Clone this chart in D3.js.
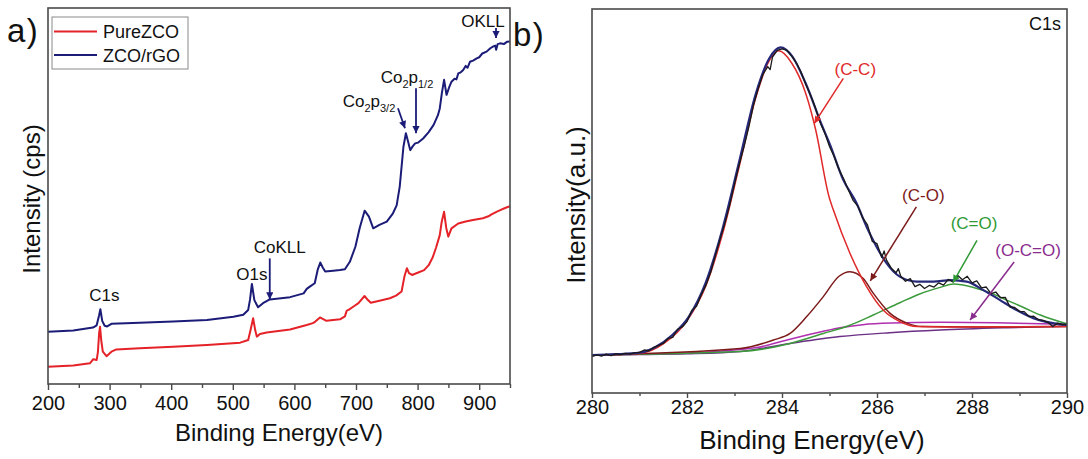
<!DOCTYPE html>
<html>
<head>
<meta charset="utf-8">
<script src="https://cdn.jsdelivr.net/npm/d3@7/dist/d3.min.js"></script>
<style>
    body { margin: 0; background: #fff; }
    svg { font-family: "Liberation Sans", Arial, sans-serif; }
</style>
</head>
<body>
<div id="chartContainer"></div>
<script>

// ---- survey spectra, [binding energy (eV), intensity (arb.)] ----
const pureZCO = [
    [200, 4.6], [241, 4.9], [268, 5.5], [273.5, 6.6], [279, 6.4], [281, 8.5], [283, 13.5], [284.5, 15.2],
    [286.5, 11.5], [289, 8.6], [295, 7.4], [303, 8.6], [311, 9.2], [349, 9.5], [403, 9.9], [458, 10.4],
    [512, 11.0], [525, 11.7], [529, 14.5], [533, 17.5], [536.5, 14.2], [539, 12.6], [544, 13.3], [555, 13.7],
    [593, 14.5], [620, 15.7], [630, 16.2], [634, 16.6], [641.5, 17.7], [652, 16.8], [674, 17.2], [682, 18.0],
    [685, 19.5], [688, 19.7], [696, 20.6], [704, 21.5], [713.8, 23.4], [719, 22.4], [724, 21.6], [740, 22.2],
    [755, 22.8], [765, 23.5], [774, 24.6], [778.5, 28.5], [782.6, 30.8], [786, 29.5], [791, 29.0], [800, 29.6],
    [810.6, 30.3], [818, 31.6], [824.6, 33.7], [830, 36.3], [836, 39.6], [839, 43.0], [843, 45.8], [846.5, 41.5],
    [849.8, 39.2], [855, 41.4], [866, 42.7], [878, 43.2], [890, 43.6], [906, 44.1], [915, 44.6], [920, 45.1],
    [928, 45.8], [935, 46.3], [942, 46.8], [950, 47.3]
];

const zcoRGO = [
    [200, 13.9], [241, 14.2], [273, 15.0], [279, 15.6], [283, 18.3], [285, 19.9], [288, 16.8], [292, 15.5],
    [296, 15.3], [303, 16.0], [349, 16.3], [403, 16.6], [458, 17.0], [501, 17.9], [517, 18.4], [525, 19.7],
    [528, 22.5], [531, 26.6], [535, 22.3], [541, 20.4], [549, 21.5], [560, 22.5], [593, 23.1], [615, 24.1],
    [620, 25.3], [625, 25.9], [633, 26.8], [638, 30.5], [642, 32.3], [646, 31.0], [650, 29.9], [663, 30.1],
    [674, 30.3], [682, 30.5], [690, 32.5], [699, 36.5], [706, 41.5], [714, 46.1], [721, 44.5], [728, 41.4],
    [738, 42.3], [750, 43.2], [760, 45.4], [766, 47.5], [771, 52.5], [777, 63.1], [781, 66.7], [784.5, 64.5],
    [788, 62.2], [792, 63.2], [796, 64.0], [801, 64.2], [809, 65.3], [818, 67.0], [826, 68.9], [833, 71.5],
    [836, 73.3], [839.5, 77.5], [843, 80.9], [847, 76.9], [851, 78.8], [855, 80.4], [860, 81.2], [863, 81.0],
    [866, 82.6], [870, 82.9], [874, 83.5], [878, 84.6], [881, 84.1], [885, 85.7], [890, 86.0], [896, 86.6],
    [900, 86.9], [905, 87.9], [912, 88.4], [918, 89.3], [923, 89.8], [926, 90.0], [927.5, 88.9], [930, 90.4],
    [934, 90.6], [940, 90.4], [945, 91.0], [950, 91.1]
];

const surveyNames = ['PureZCO', 'ZCO/rGO'];
const surveyTicks = [200, 300, 400, 500, 600, 700, 800, 900];
const surveyMinorTicks = [250, 350, 450, 550, 650, 750, 850, 950];

// ---- C1s high resolution, [binding energy (eV), intensity (a.u.)] ----
const c1sRaw = [
    [280.0, 9.5], [280.1, 9.9], [280.2, 9.6], [280.3, 10.1], [280.4, 9.7], [280.5, 10.2], [280.6, 10.0],
    [280.7, 10.3], [280.8, 10.1], [280.9, 10.5], [281.0, 10.6], [281.1, 11.2], [281.2, 11.0], [281.3, 11.9],
    [281.4, 12.4], [281.5, 12.9], [281.6, 14.2], [281.7, 14.5], [281.8, 16.6], [281.9, 17.2], [282.0, 18.6],
    [282.1, 21.5], [282.2, 22.6], [282.3, 25.6], [282.4, 28.1], [282.5, 31.5], [282.6, 35.9], [282.7, 40.2],
    [282.8, 44.3], [282.9, 49.0], [283.0, 54.4], [283.1, 59.5], [283.2, 64.1], [283.3, 69.2], [283.4, 75.0],
    [283.5, 79.3], [283.6, 83.0], [283.7, 85.0], [283.75, 84.2], [283.8, 87.5], [283.9, 89.2], [284.0, 89.6],
    [284.1, 89.3], [284.2, 87.8], [284.3, 86.0], [284.4, 83.6], [284.5, 80.4], [284.6, 77.6], [284.7, 74.4],
    [284.8, 70.5], [284.9, 67.7], [285.0, 64.2], [285.1, 61.5], [285.2, 58.2], [285.3, 55.7], [285.4, 52.8],
    [285.5, 50.1], [285.6, 48.6], [285.7, 45.6], [285.8, 43.8], [285.9, 39.5], [286.0, 38.9], [286.1, 35.3],
    [286.15, 37.0], [286.2, 34.6], [286.3, 32.5], [286.4, 31.3], [286.45, 32.4], [286.5, 30.4], [286.6, 29.1],
    [286.7, 29.8], [286.8, 27.7], [286.9, 28.3], [287.0, 27.2], [287.1, 28.0], [287.2, 27.6], [287.3, 28.7],
    [287.4, 28.1], [287.5, 29.6], [287.6, 28.9], [287.7, 30.6], [287.8, 29.5], [287.9, 30.4], [288.0, 28.7],
    [288.1, 29.2], [288.2, 27.4], [288.3, 27.6], [288.4, 25.9], [288.5, 26.3], [288.6, 24.8], [288.7, 24.9],
    [288.8, 22.4], [288.9, 22.3], [289.0, 21.2], [289.1, 21.2], [289.2, 19.9], [289.3, 20.0], [289.4, 19.1],
    [289.5, 18.9], [289.6, 18.4], [289.7, 17.3], [289.8, 18.2], [289.9, 17.8], [290.0, 17.9]
];

const c1sEnvelope = [
    [280.0, 9.9], [280.5, 10.1], [281.0, 10.5], [281.34, 12.0], [281.69, 15.1], [282.04, 19.9], [282.39, 28.6],
    [282.74, 42.4], [283.09, 59.8], [283.45, 78.0], [283.73, 87.1], [283.97, 90.0], [284.22, 87.6], [284.5, 80.6],
    [284.85, 69.4], [285.0, 65.0], [285.29, 55.5], [285.57, 49.4], [285.78, 43.3], [285.99, 38.1], [286.2, 33.8],
    [286.48, 30.3], [286.84, 29.0], [287.19, 29.0], [287.54, 29.4], [287.89, 29.0], [288.24, 26.8], [288.59, 24.2],
    [288.94, 21.6], [289.29, 19.5], [289.54, 18.6], [290.0, 17.7]
];

const c1sCC = [
    [280.0, 9.9], [281.0, 10.3], [281.5, 12.8], [282.0, 18.8], [282.4, 28.0], [282.75, 41.5], [283.1, 59.0],
    [283.45, 77.0], [283.73, 86.5], [283.93, 89.1], [284.2, 86.0], [284.5, 78.0], [284.71, 68.5], [284.99, 51.1],
    [285.08, 47.7], [285.43, 36.4], [285.78, 27.7], [286.13, 21.6], [286.48, 18.6], [286.84, 17.3], [287.5, 17.2],
    [290.0, 17.3]
];

const c1sCO = [
    [280.0, 9.9], [283.12, 11.6], [283.82, 13.8], [284.17, 15.5], [284.52, 19.9], [284.87, 25.1], [285.2, 30.4],
    [285.43, 31.6], [285.71, 29.8], [285.92, 26.0], [286.27, 20.8], [286.63, 18.2], [286.95, 17.3], [288.0, 17.2],
    [290.0, 17.3]
];

const c1sCdO = [
    [280.0, 9.9], [283.12, 10.8], [284.17, 12.9], [284.87, 15.5], [285.4, 17.5], [285.92, 20.3], [286.48, 23.5],
    [286.9, 25.8], [287.33, 27.5], [287.61, 28.4], [288.03, 27.5], [288.4, 26.0], [288.73, 24.2], [289.1, 22.2],
    [289.44, 20.3], [290.0, 18.0]
];

const c1sOCdO = [
    [280.0, 9.9], [281.0, 10.1], [282.0, 10.4], [283.0, 11.2], [283.5, 11.9], [284.17, 14.0], [284.85, 16.0],
    [285.22, 17.0], [285.7, 17.8], [286.3, 18.2], [287.33, 18.4], [288.5, 18.3], [290.0, 17.9]
];

const c1sBackground = [
    [280.0, 9.9], [281.0, 10.0], [282.0, 10.2], [283.12, 10.8], [284.17, 12.9], [285.22, 14.7], [286.27, 15.7],
    [287.33, 16.4], [288.73, 17.0], [290.0, 17.4]
];

const c1sTicks = [280, 282, 284, 286, 288, 290];
const c1sMinorTicks = [281, 283, 285, 287, 289];

const width = 1088;
const height = 459;

const navy = '#1b1b78';
const red = '#e42228';

const svg = d3.select('#chartContainer')
    .append('svg')
    .attr('width', width)
    .attr('height', height)
    .attr('viewBox', `0 0 ${width} ${height}`);

const defs = svg.append('defs');

function makeArrow(id, color, size) {
    defs.append('marker')
        .attr('id', id)
        .attr('viewBox', '0 0 10 10')
        .attr('refX', 10)
        .attr('refY', 5)
        .attr('markerUnits', 'userSpaceOnUse')
        .attr('markerWidth', size)
        .attr('markerHeight', size * 0.8)
        .attr('orient', 'auto')
        .append('path')
        .attr('d', 'M0,0 L10,5 L0,10 z')
        .attr('fill', color);
}

makeArrow('arrNavy', navy, 9);
makeArrow('arrCC', '#e02a2a', 9);
makeArrow('arrCO', '#7c1a1a', 9);
makeArrow('arrCdO', '#2f9a35', 9);
makeArrow('arrOCdO', '#8a2c8e', 9);

function drawFrame(g, x0, x1, y0, y1) {
    g.append('rect')
        .attr('x', x0).attr('y', y1)
        .attr('width', x1 - x0).attr('height', y0 - y1)
        .attr('fill', 'none')
        .attr('stroke', '#4a4a4a')
        .attr('stroke-width', 1.6);
}

function drawXAxis(g, scale, yPos, ticks, minor, opts) {
    const major = d3.axisBottom(scale)
        .tickValues(ticks)
        .tickSize(opts.tick)
        .tickPadding(opts.pad)
        .tickFormat(d3.format('d'));
    const ax = g.append('g')
        .attr('transform', `translate(0, ${yPos})`)
        .call(major);
    ax.select('.domain').remove();
    ax.selectAll('line').attr('stroke', '#4a4a4a').attr('stroke-width', 1.4);
    ax.selectAll('text')
        .attr('fill', '#111')
        .style('font-size', opts.font + 'px')
        .style('font-family', '"Liberation Sans", Arial, sans-serif');

    const mn = d3.axisBottom(scale)
        .tickValues(minor)
        .tickSize(opts.minorTick)
        .tickFormat('');
    const mx = g.append('g')
        .attr('transform', `translate(0, ${yPos})`)
        .call(mn);
    mx.select('.domain').remove();
    mx.selectAll('line').attr('stroke', '#4a4a4a').attr('stroke-width', 1.4);
}

// ================= panel a) survey =================
const a = { left: 48, right: 510, top: 8, bottom: 384 };

const xA = d3.scaleLinear().domain([200, 950]).range([a.left, a.right]);
const yA = d3.scaleLinear().domain([0, 100]).range([a.bottom, a.top]);

const gA = svg.append('g').attr('id', 'panelA');

defs.append('clipPath').attr('id', 'clipA')
    .append('rect')
    .attr('x', a.left).attr('y', a.top)
    .attr('width', a.right - a.left).attr('height', a.bottom - a.top);

const lineA = d3.line()
    .x(d => xA(d[0]))
    .y(d => yA(d[1]));

const surveySeries = [
    { name: surveyNames[0], values: pureZCO, color: red },
    { name: surveyNames[1], values: zcoRGO, color: navy }
];

gA.append('g')
    .attr('clip-path', 'url(#clipA)')
    .selectAll('path')
    .data(surveySeries)
    .enter()
    .append('path')
    .attr('d', d => lineA(d.values))
    .attr('fill', 'none')
    .attr('stroke', d => d.color)
    .attr('stroke-width', 2)
    .attr('stroke-linejoin', 'round');

drawFrame(gA, a.left, a.right, a.bottom, a.top);
drawXAxis(gA, xA, a.bottom, surveyTicks, surveyMinorTicks, { tick: 6, pad: 6, minorTick: 4, font: 20 });

gA.append('text')
    .attr('x', (a.left + a.right) / 2)
    .attr('y', 441)
    .attr('text-anchor', 'middle')
    .style('font-size', '24px')
    .attr('fill', '#111')
    .text('Binding Energy(eV)');

gA.append('text')
    .attr('transform', `translate(40, 199) rotate(-90)`)
    .attr('text-anchor', 'middle')
    .style('font-size', '24px')
    .attr('fill', '#111')
    .text('Intensity (cps)');

gA.append('text')
    .attr('x', 7)
    .attr('y', 42)
    .style('font-size', '33px')
    .style('letter-spacing', '1.5px')
    .attr('fill', '#111')
    .text('a)');

// legend
const legend = gA.append('g').attr('class', 'legend');
legend.append('rect')
    .attr('x', 52).attr('y', 17)
    .attr('width', 136).attr('height', 52)
    .attr('fill', '#fff')
    .attr('stroke', '#8a8a8a')
    .attr('stroke-width', 1);

const legendRows = legend.selectAll('g.row')
    .data(surveySeries)
    .enter()
    .append('g')
    .attr('class', 'row')
    .attr('transform', (d, i) => `translate(0, ${31.5 + i * 23.5})`);

legendRows.append('line')
    .attr('x1', 54).attr('x2', 97)
    .attr('y1', 0).attr('y2', 0)
    .attr('stroke', d => d.color)
    .attr('stroke-width', 2);

legendRows.append('text')
    .attr('x', 103)
    .attr('y', 6.5)
    .style('font-size', '18px')
    .attr('fill', '#111')
    .text(d => d.name);

// peak labels on the survey: anchor in data space, text offset in px
const surveyNotes = [
    { label: 'C1s', e: 285, v: 19.9, dx: 4, dy: -8, arrow: false },
    { label: 'O1s', e: 531, v: 26.6, dx: 0, dy: -4, arrow: false },
    { label: 'CoKLL', e: 560, v: 22.5, dx: 10, dy: -46, arrow: true, ax: 0 },
    { label: 'Co2p3/2', e: 779.5, v: 68, dx: -36, dy: -21, arrow: true, ax: -7, sub: ['2', '3/2'] },
    { label: 'Co2p1/2', e: 797.4, v: 66.7, dx: -9, dy: -50, arrow: true, ax: 0, sub: ['2', '1/2'] },
    { label: 'OKLL', e: 927.3, v: 92.0, dx: -13, dy: -11, arrow: true, ax: 0 }
];

surveyNotes.forEach(n => {
    const px = xA(n.e);
    const py = yA(n.v);
    const t = gA.append('text')
        .attr('x', px + n.dx)
        .attr('y', py + n.dy)
        .attr('text-anchor', 'middle')
        .style('font-size', '17px')
        .attr('fill', '#111');
    if (n.sub) {
        t.append('tspan').text('Co');
        t.append('tspan').attr('dy', 5).style('font-size', '11px').text(n.sub[0]);
        t.append('tspan').attr('dy', -5).text('p');
        t.append('tspan').attr('dy', 5).style('font-size', '11px').text(n.sub[1]);
    } else {
        t.text(n.label);
    }
    if (n.arrow) {
        const startY = n.label === 'Co2p3/2' ? py + n.dy + 1 : py + n.dy + (n.label === 'OKLL' ? 1 : 5);
        const startX = n.label === 'Co2p3/2' ? px + n.ax : px;
        gA.append('line')
            .attr('x1', startX)
            .attr('y1', startY)
            .attr('x2', px)
            .attr('y2', py)
            .attr('stroke', navy)
            .attr('stroke-width', 1.8)
            .attr('marker-end', 'url(#arrNavy)');
    }
});

// ================= panel b) C1s =================
const b = { left: 592, right: 1067, top: 9, bottom: 393 };

const xB = d3.scaleLinear().domain([280, 290]).range([b.left, b.right]);
const yB = d3.scaleLinear().domain([0, 100]).range([b.bottom, b.top]);

const gB = svg.append('g').attr('id', 'panelB');

defs.append('clipPath').attr('id', 'clipB')
    .append('rect')
    .attr('x', b.left).attr('y', b.top)
    .attr('width', b.right - b.left).attr('height', b.bottom - b.top);

const smoothB = d3.line()
    .x(d => xB(d[0]))
    .y(d => yB(d[1]))
    .curve(d3.curveMonotoneX);

const rawB = d3.line()
    .x(d => xB(d[0]))
    .y(d => yB(d[1]));

const c1sSeries = [
    { values: c1sBackground, color: '#6b2f86', w: 1.5, gen: smoothB },
    { values: c1sOCdO, color: '#b02fb0', w: 1.5, gen: smoothB },
    { values: c1sCdO, color: '#3b9a3b', w: 1.5, gen: smoothB },
    { values: c1sCO, color: '#7c1a1a', w: 1.5, gen: smoothB },
    { values: c1sCC, color: '#e02a2a', w: 1.5, gen: smoothB },
    { values: c1sEnvelope, color: '#26287a', w: 2.2, gen: smoothB },
    { values: c1sRaw, color: '#1a1a1a', w: 1.3, gen: rawB }
];

gB.append('g')
    .attr('clip-path', 'url(#clipB)')
    .selectAll('path')
    .data(c1sSeries)
    .enter()
    .append('path')
    .attr('d', d => d.gen(d.values))
    .attr('fill', 'none')
    .attr('stroke', d => d.color)
    .attr('stroke-width', d => d.w)
    .attr('stroke-linejoin', 'round');

drawFrame(gB, b.left, b.right, b.bottom, b.top);
drawXAxis(gB, xB, b.bottom, c1sTicks, c1sMinorTicks, { tick: 5, pad: 2, minorTick: 3, font: 20 });

gB.append('text')
    .attr('x', 812)
    .attr('y', 449)
    .attr('text-anchor', 'middle')
    .style('font-size', '26px')
    .attr('fill', '#111')
    .text('Binding Energy(eV)');

gB.append('text')
    .attr('transform', `translate(585, 205) rotate(-90)`)
    .attr('text-anchor', 'middle')
    .style('font-size', '26px')
    .attr('fill', '#111')
    .text('Intensity(a.u.)');

gB.append('text')
    .attr('x', 513)
    .attr('y', 46)
    .style('font-size', '33px')
    .style('letter-spacing', '1.5px')
    .attr('fill', '#111')
    .text('b)');

gB.append('text')
    .attr('x', 1061)
    .attr('y', 30)
    .attr('text-anchor', 'end')
    .style('font-size', '18px')
    .attr('fill', '#111')
    .text('C1s');

// component labels: arrow tip in data space, label centre offset in px
const c1sNotes = [
    { label: '(C-C)', e: 284.68, v: 70.2, tx: 41, ty: -48, sx: 29, sy: -45, color: '#e02a2a', marker: 'arrCC' },
    { label: '(C-O)', e: 285.86, v: 29.2, tx: 53, ty: -80, sx: 46, sy: -74, color: '#7c1a1a', marker: 'arrCO' },
    { label: '(C=O)', e: 287.6, v: 28.8, tx: 21, ty: -53, sx: 24, sy: -42, color: '#2f9a35', marker: 'arrCdO' },
    { label: '(O-C=O)', e: 287.96, v: 19.0, tx: 58, ty: -64, sx: 44, sy: -58, color: '#8a2c8e', marker: 'arrOCdO' }
];

c1sNotes.forEach(n => {
    const px = xB(n.e);
    const py = yB(n.v);
    gB.append('line')
        .attr('x1', px + n.sx).attr('y1', py + n.sy)
        .attr('x2', px).attr('y2', py)
        .attr('stroke', n.color)
        .attr('stroke-width', 1.5)
        .attr('marker-end', `url(#${n.marker})`);
    gB.append('text')
        .attr('x', px + n.tx)
        .attr('y', py + n.ty)
        .attr('text-anchor', 'middle')
        .style('font-size', '17px')
        .attr('fill', n.color)
        .text(n.label);
});

</script>
</body>
</html>
